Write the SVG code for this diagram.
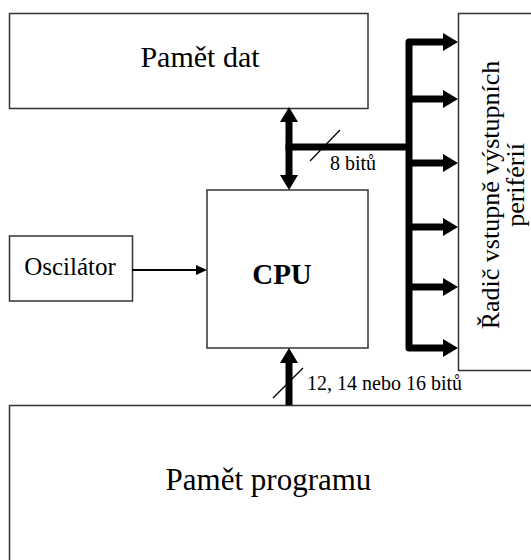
<svg xmlns="http://www.w3.org/2000/svg" width="531" height="560" viewBox="0 0 531 560">
<style>
.box{fill:#fff;stroke:#333;stroke-width:1.5}
.t{font-family:"Liberation Serif","Times New Roman",serif;fill:#000}
.bus{fill:none;stroke:#000;stroke-width:7;stroke-linejoin:round}
.thin{fill:none;stroke:#000;stroke-width:2}
.slash{fill:none;stroke:#000;stroke-width:1.2}
</style>
<defs>
<marker id="bigArrow" viewBox="0 0 15 18" refX="1" refY="9" markerWidth="15" markerHeight="18" markerUnits="userSpaceOnUse" orient="auto-start-reverse">
<path d="M0,0 L15,9 L0,18 Z" fill="#000"/>
</marker>
<marker id="smallArrow" viewBox="0 0 11 10" refX="1" refY="5" markerWidth="11" markerHeight="10" markerUnits="userSpaceOnUse" orient="auto">
<path d="M0,0 L11,5 L0,10 Z" fill="#000"/>
</marker>
</defs>
<g id="pamet-dat">
<rect class="box" x="9.5" y="13.5" width="358.5" height="95"/>
<text class="t" x="200" y="67" font-size="30" text-anchor="middle">Pamět dat</text>
</g>
<g id="radic">
<rect class="box" x="458.5" y="13.5" width="90" height="357"/>
<g transform="translate(499,195) rotate(-90)"><text class="t" x="0" y="0" font-size="26" text-anchor="middle">Řadič vstupně výstupních</text></g>
<g transform="translate(524,185) rotate(-90)"><text class="t" x="0" y="0" font-size="26" text-anchor="middle">periférií</text></g>
</g>
<g id="oscilator">
<rect class="box" x="9.5" y="236" width="123" height="65"/>
<text class="t" x="70" y="275" font-size="25" text-anchor="middle">Oscilátor</text>
</g>
<g id="cpu">
<rect class="box" x="207" y="190" width="161" height="158"/>
<text class="t" x="282" y="284" font-size="29" font-weight="bold" text-anchor="middle">CPU</text>
</g>
<g id="pamet-programu">
<rect class="box" x="9.5" y="405.5" width="540" height="200"/>
<text class="t" x="268.5" y="490" font-size="31" text-anchor="middle">Pamět programu</text>
</g>
<g id="connectors">
<line class="thin" x1="132" y1="270" x2="197" y2="270" marker-end="url(#smallArrow)"/>
<line class="bus" x1="289" y1="121" x2="289" y2="176" marker-start="url(#bigArrow)" marker-end="url(#bigArrow)"/>
<line class="bus" x1="285.5" y1="147" x2="409" y2="147"/>
<path class="bus" d="M444,42 H409 V348 H444" marker-start="url(#bigArrow)" marker-end="url(#bigArrow)"/>
<line class="bus" x1="409" y1="99" x2="444" y2="99" marker-end="url(#bigArrow)"/>
<line class="bus" x1="409" y1="163" x2="444" y2="163" marker-end="url(#bigArrow)"/>
<line class="bus" x1="409" y1="227" x2="444" y2="227" marker-end="url(#bigArrow)"/>
<line class="bus" x1="409" y1="287" x2="444" y2="287" marker-end="url(#bigArrow)"/>
<line class="bus" x1="289" y1="405" x2="289" y2="362" marker-end="url(#bigArrow)"/>
<line class="slash" x1="310" y1="161" x2="340" y2="130"/>
<line class="slash" x1="273" y1="398" x2="303" y2="368"/>
<text class="t" x="330" y="170" font-size="20">8 bitů</text>
<text class="t" x="307" y="390" font-size="20">12, 14 nebo 16 bitů</text>
</g>
</svg>
